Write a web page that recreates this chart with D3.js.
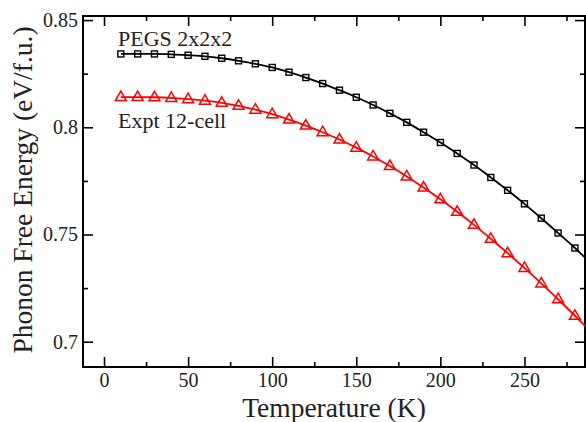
<!DOCTYPE html>
<html>
<head>
<meta charset="utf-8">
<script src="https://cdn.jsdelivr.net/npm/d3@7"></script>
</head>
<body style="margin:0">
<div id="chart"></div>
<script>
// DATA
temps = [10,20,30,40,50,60,70,80,90,100,110,120,130,140,150,160,170,180,190,200,210,220,230,240,250,260,270,280]
pegs = [0.8342,0.8342,0.8342,0.8340,0.8336,0.8331,0.8322,0.8310,0.8296,0.8279,0.8257,0.8232,0.8204,0.8173,0.8140,0.8104,0.8065,0.8023,0.7977,0.7929,0.7878,0.7824,0.7766,0.7706,0.7643,0.7576,0.7507,0.7437]
expt = [0.8141,0.8141,0.8140,0.8137,0.8131,0.8124,0.8114,0.8100,0.8082,0.8061,0.8036,0.8008,0.7977,0.7943,0.7905,0.7864,0.7819,0.7771,0.7719,0.7664,0.7606,0.7545,0.7480,0.7413,0.7344,0.7272,0.7198,0.7121]
// fitted curves run past the last marker, off the right edge
curveEndT = 290
pegsEnd = 0.7362
exptEnd = 0.7043

xMajor = [0,50,100,150,200,250]
xMinor = [25,75,125,175,225,275]
yMajor = [0.7,0.75,0.8,0.85]
yMinor = [0.725,0.775,0.825]
yLabels = ["0.7","0.75","0.8","0.85"]

// SIZES
W = 586, H = 422
plot = {left: 83, right: 585, top: 16, bottom: 367}
FONT = "'Liberation Serif'"

svg = d3.select("#chart")
  .append("svg")
    .attr("width", W)
    .attr("height", H)

// SCALES
x = d3.scaleLinear().domain([-12.5, 286]).range([plot.left, plot.right])
y = d3.scaleLinear().domain([0.6882, 0.8519]).range([plot.bottom, plot.top])

svg.append("clipPath").attr("id", "clip")
  .append("rect")
    .attr("x", plot.left).attr("y", plot.top)
    .attr("width", plot.right - plot.left).attr("height", plot.bottom - plot.top)

// AXES (ticks point inward on all four sides)
function styleAxis(g) {
  g.select(".domain").remove()
  g.selectAll(".tick line").attr("stroke", "#000").attr("stroke-width", 1.6)
  g.selectAll("text").attr("fill", "#222")
    .style("font-family", FONT).style("font-size", "20px")
}

svg.append("g").attr("transform", "translate(0," + plot.bottom + ")")
  .call(d3.axisBottom(x).tickValues(xMajor).tickSize(-10).tickPadding(6).tickFormat(d3.format("d")))
  .call(styleAxis)
svg.append("g").attr("transform", "translate(0," + plot.bottom + ")")
  .call(d3.axisBottom(x).tickValues(xMinor).tickSize(-5).tickFormat(""))
  .call(styleAxis)
svg.append("g").attr("transform", "translate(0," + plot.top + ")")
  .call(d3.axisTop(x).tickValues(xMajor).tickSize(-10).tickFormat(""))
  .call(styleAxis)
svg.append("g").attr("transform", "translate(0," + plot.top + ")")
  .call(d3.axisTop(x).tickValues(xMinor).tickSize(-5).tickFormat(""))
  .call(styleAxis)

svg.append("g").attr("transform", "translate(" + plot.left + ",0)")
  .call(d3.axisLeft(y).tickValues(yMajor).tickSize(-10).tickPadding(5)
    .tickFormat(function(d, i) { return yLabels[i] }))
  .call(styleAxis)
svg.append("g").attr("transform", "translate(" + plot.left + ",0)")
  .call(d3.axisLeft(y).tickValues(yMinor).tickSize(-5).tickFormat(""))
  .call(styleAxis)
svg.append("g").attr("transform", "translate(" + plot.right + ",0)")
  .call(d3.axisRight(y).tickValues(yMajor).tickSize(-10).tickFormat(""))
  .call(styleAxis)
svg.append("g").attr("transform", "translate(" + plot.right + ",0)")
  .call(d3.axisRight(y).tickValues(yMinor).tickSize(-5).tickFormat(""))
  .call(styleAxis)

// FRAME
svg.append("rect")
  .attr("x", plot.left).attr("y", plot.top)
  .attr("width", plot.right - plot.left).attr("height", plot.bottom - plot.top)
  .attr("fill", "none").attr("stroke", "#000").attr("stroke-width", 2)

// LINES
line = d3.line()
  .x(function(d) { return x(d[0]) })
  .y(function(d) { return y(d[1]) })
  .curve(d3.curveMonotoneX)

series = [
  {name: "PEGS 2x2x2", vals: pegs, end: pegsEnd, color: "#000"},
  {name: "Expt 12-cell", vals: expt, end: exptEnd, color: "#ff0000"}
]

lines = svg.append("g").attr("clip-path", "url(#clip)")

series.forEach(function(s) {
  pts = temps.map(function(t, i) { return [t, s.vals[i]] })
  pts.push([curveEndT, s.end])
  lines.append("path")
    .datum(pts)
    .attr("fill", "none")
    .attr("stroke", s.color)
    .attr("stroke-width", 1.8)
    .attr("d", line)
})

// MARKERS
svg.append("g").selectAll("rect")
  .data(temps)
  .enter()
  .append("rect")
    .attr("x", function(d) { return x(d) - 3 })
    .attr("y", function(d, i) { return y(pegs[i]) - 3 })
    .attr("width", 6)
    .attr("height", 6)
    .attr("fill", "none")
    .attr("stroke", "#000")
    .attr("stroke-width", 1.4)

tri = "M0,-6L5.5,3.5L-5.5,3.5Z"
svg.append("g").selectAll("path")
  .data(temps)
  .enter()
  .append("path")
    .attr("transform", function(d, i) { return "translate(" + x(d) + "," + y(expt[i]) + ")" })
    .attr("d", tri)
    .attr("fill", "none")
    .attr("stroke", "#ff0000")
    .attr("stroke-width", 1.5)

// LEGEND LABELS
svg.append("text")
  .attr("x", 118).attr("y", 46)
  .style("font-family", FONT).style("font-size", "22px").attr("fill", "#222")
  .text("PEGS 2x2x2")
svg.append("text")
  .attr("x", 118).attr("y", 128)
  .style("font-family", FONT).style("font-size", "22px").attr("fill", "#222")
  .text("Expt 12-cell")

// AXIS TITLES
svg.append("text")
  .attr("x", 334)
  .attr("y", 417)
  .attr("text-anchor", "middle")
  .style("font-family", FONT).style("font-size", "27.5px").attr("fill", "#222")
  .text("Temperature (K)")

svg.append("text")
  .attr("transform", "translate(32,190) rotate(-90)")
  .attr("text-anchor", "middle")
  .style("font-family", FONT).style("font-size", "27.5px").attr("fill", "#222")
  .text("Phonon Free Energy (eV/f.u.)")
</script>
</body>
</html>
